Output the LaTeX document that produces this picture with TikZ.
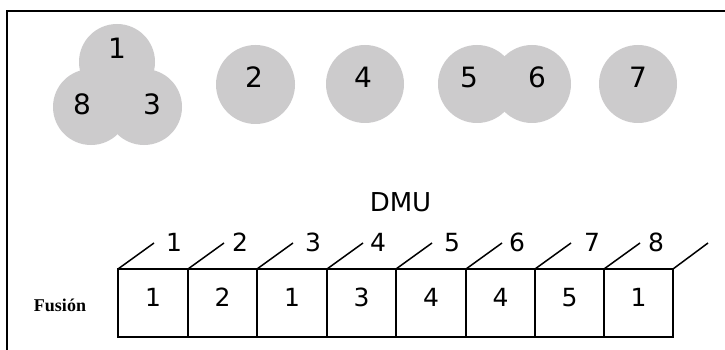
\documentclass[tikz,border=0pt]{standalone}
\usepackage{fontspec}
\usetikzlibrary{calc}
\setmainfont{DejaVu Sans}
\newfontfamily\labelserif{Liberation Serif}
\definecolor{blobgray}{RGB}{204,203,204}
\begin{document}
\begin{tikzpicture}[x=1pt,y=-1pt,
  blob/.style={fill=blobgray,draw=none},
  blobnum/.style={font=\fontsize{28}{30}\selectfont,inner sep=0pt,text height=0.73em,text depth=0pt},
  cellnum/.style={font=\fontsize{25}{27}\selectfont,inner sep=0pt,text height=0.73em,text depth=0pt},
  cell/.style={draw=black,line width=1.6pt,minimum height=68pt,inner sep=0pt,outer sep=0pt,font=\fontsize{25}{27}\selectfont,text height=0.73em,text depth=0pt},
  frame/.style={draw=black,line width=2.2pt},
  tick/.style={draw=black,line width=1.5pt}]
\useasboundingbox (0,0) rectangle (725,350);
\fill[white] (0,0) rectangle (725,350);
% outer frame (top and left edges)
\draw[frame] (7,350) -- (7,11) -- (725,11);

% clusters of DMUs
\fill[blob] (117,62) circle (38);
\fill[blob] (91,107) circle (38);
\fill[blob] (144,107) circle (38);
\fill[blob] (255.5,84.5) circle (39.5);
\fill[blob] (365,84) circle (39);
\fill[blob] (477,84) circle (39);
\fill[blob] (532,84) circle (39);
\fill[blob] (638,84) circle (39);

\node[blobnum] (c1) at (117,55) {1};
\node[blobnum] (c8) at (82,111) {8};
\node[blobnum] (c3) at (152,111) {3};
\node[blobnum] (c2) at (254,84) {2};
\node[blobnum] (c4) at (363,84) {4};
\node[blobnum] (c5) at (469,83.5) {5};
\node[blobnum] (c6) at (537,83.5) {6};
\node[blobnum] (c7) at (638,83.5) {7};

% DMU strip
\node[font=\fontsize{26}{28}\selectfont,inner sep=0pt] (dmu) at (400.5,202) {DMU};
\node[font=\labelserif\bfseries\fontsize{18}{20}\selectfont,inner sep=0pt] (fus) at (60,305) {Fusión};

% cells: index / left edge / right edge / value
\foreach \i/\l/\r/\v in {0/118/188/1,1/188/257/2,2/257/327/1,3/327/396/3,4/396/466/4,5/466/535/4,6/535/604/5,7/604/673/1}{
  \node[cell,minimum width={(\r-\l)*1pt}] (b\i) at ({(\l+\r)/2},303) {\v};
}
\coordinate (bend) at (b7.north east);

\foreach \i in {0,...,7}{
  \coordinate (t\i) at ($(b\i.north west)+(36,-26)$);
  \draw[tick] (b\i.north west) -- (t\i);
}
\coordinate (tend) at ($(bend)+(35,-26)$);
\draw[tick] (bend) -- (tend);

\foreach \k/\x in {1/174,2/240,3/313,4/378,5/452,6/517,7/592,8/656}{
  \node[cellnum] (d\k) at (\x,248) {\k};
}
\end{tikzpicture}
\end{document}
